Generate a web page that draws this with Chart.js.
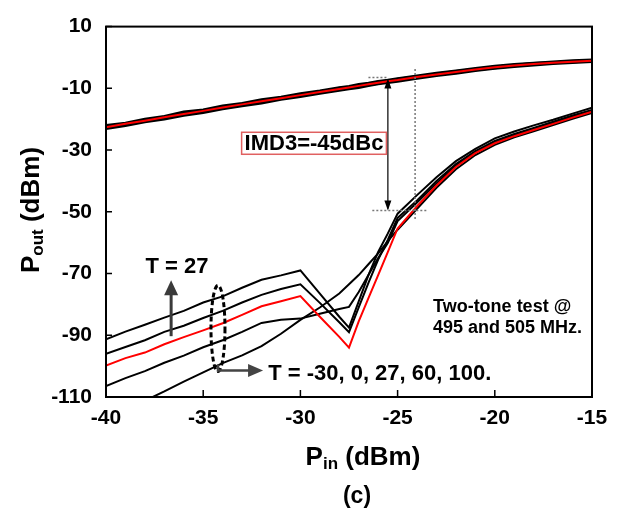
<!DOCTYPE html>
<html>
<head>
<meta charset="utf-8">
<script src="https://cdn.jsdelivr.net/npm/chart.js@4.4.1/dist/chart.umd.min.js"></script>
<style>
  html, body { margin: 0; padding: 0; background: #fff; }
  #wrap { width: 625px; height: 512px; }
</style>
</head>
<body>
<div id="wrap"><canvas id="chart" width="625" height="512"></canvas></div>
<script>
// input power sweep (dBm)
const PIN = [-40, -39, -38, -37, -36, -35, -34, -33, -32, -31, -30, -29, -28,
  -27.5, -27, -26.5, -26, -25.5, -25,
  -24, -23, -22, -21, -20, -19, -18, -17, -16, -15];

// fundamental output, five temperatures (red = 27 C)
const FUND_27 = [-22.6, -21.5, -20.5, -19.4, -18.3, -17.3, -16.2, -15.2, -14.2, -13.2, -12.2, -11.2, -10.2,
  -9.7, -9.2, -8.7, -8.2, -7.7, -7.3, -6.3, -5.5, -4.7, -3.9, -3.2, -2.6, -2.1, -1.7, -1.4, -1.1];
const FUND_A = [-22.0, -21.2, -19.9, -19.0, -17.6, -16.9, -15.6, -14.8, -13.6, -12.8, -11.7, -10.8, -9.7,
  -9.3, -8.7, -8.3, -7.7, -7.3, -6.8, -5.9, -5.0, -4.3, -3.5, -2.8, -2.2, -1.8, -1.4, -1.0, -0.7];
const FUND_B = [-23.1, -22.1, -20.9, -20.0, -18.8, -17.9, -16.7, -15.7, -14.8, -13.6, -12.7, -11.7, -10.7,
  -10.2, -9.8, -9.2, -8.6, -8.2, -7.8, -6.8, -5.9, -5.2, -4.3, -3.6, -3.0, -2.5, -2.0, -1.7, -1.4];
const FUND_C = [-22.3, -21.6, -20.2, -19.6, -18.0, -17.5, -15.9, -15.3, -13.9, -13.4, -11.9, -11.4, -9.9,
  -9.6, -8.9, -8.6, -7.9, -7.6, -7.0, -6.2, -5.3, -4.5, -3.7, -3.0, -2.4, -1.9, -1.6, -1.2, -0.9];
const FUND_D = [-22.9, -21.4, -20.7, -19.2, -18.6, -17.1, -16.5, -15.0, -14.5, -13.0, -12.5, -11.0, -10.5,
  -9.9, -9.5, -8.9, -8.4, -7.9, -7.5, -6.5, -5.7, -4.9, -4.1, -3.4, -2.8, -2.3, -1.8, -1.5, -1.2];

// third-order intermodulation output
const IMD_A = [-91.3, -88.8, -86.6, -84.3, -82.1, -79.4, -77.4, -74.6, -72.0, -70.6, -69.0, -76.5, -84.0,
  -87.5, -79.0, -70.5, -63.0, -57.0, -50.6, -44.6, -38.8, -33.6, -29.6, -26.2, -24.0, -22.0, -20.2, -18.2, -16.3];
const IMD_B = [-96.0, -93.8, -91.6, -88.9, -86.9, -84.4, -82.1, -79.4, -76.9, -75.0, -73.5, -79.5, -85.8,
  -89.0, -81.0, -73.0, -65.5, -59.0, -52.0, -46.3, -40.0, -34.5, -30.3, -27.0, -24.8, -22.8, -20.8, -18.8, -17.0];
const IMD_27 = [-99.8, -97.4, -95.6, -92.9, -90.6, -88.4, -86.1, -83.4, -80.6, -79.0, -77.3, -84.0, -90.5,
  -94.0, -85.5, -78.0, -70.5, -63.0, -55.4, -48.2, -41.5, -35.5, -31.0, -27.8, -25.5, -23.5, -21.5, -19.5, -17.6];
const IMD_D = [-106.5, -103.9, -101.6, -98.9, -96.6, -93.9, -91.6, -88.9, -86.0, -85.0, -84.6, -83.0, -81.5,
  -80.8, -76.0, -70.5, -65.0, -60.0, -53.0, -47.0, -40.8, -35.0, -30.8, -27.5, -25.2, -23.2, -21.2, -19.2, -17.3];
const IMD_E = [-117.0, -114.0, -111.2, -108.2, -105.0, -102.0, -99.0, -96.5, -93.5, -89.5, -85.0, -81.0, -76.5,
  -73.5, -70.5, -67.0, -63.5, -59.5, -55.8, -49.0, -42.2, -36.2, -31.6, -28.3, -25.9, -23.9, -21.9, -19.9, -18.0];

const X_TICKS = [-40, -35, -30, -25, -20, -15];
const Y_TICKS = [-110, -90, -70, -50, -30, -10, 10];

const FONT = '"Liberation Sans", Arial, sans-serif';

function pts(ys) {
  return PIN.map((x, i) => ({ x: x, y: ys[i] }));
}

function line(ys, color, width) {
  return {
    data: pts(ys),
    borderColor: color,
    borderWidth: width,
    pointRadius: 0,
    tension: 0,
    fill: false,
    clip: 0
  };
}

function arrowHead(ctx, x, y, dir, w, h) {
  // dir: 'up' | 'down' | 'right'
  ctx.beginPath();
  if (dir === "up") { ctx.moveTo(x, y); ctx.lineTo(x - w / 2, y + h); ctx.lineTo(x + w / 2, y + h); }
  if (dir === "down") { ctx.moveTo(x, y); ctx.lineTo(x - w / 2, y - h); ctx.lineTo(x + w / 2, y - h); }
  if (dir === "right") { ctx.moveTo(x, y); ctx.lineTo(x - h, y - w / 2); ctx.lineTo(x - h, y + w / 2); }
  ctx.closePath();
  ctx.fill();
}

const decor = {
  id: "decor",
  afterDraw(chart) {
    const ctx = chart.ctx;
    const a = chart.chartArea;
    const xs = chart.scales.x, ys = chart.scales.y;
    const X = v => xs.getPixelForValue(v), Y = v => ys.getPixelForValue(v);
    ctx.save();

    // frame + inward ticks
    ctx.strokeStyle = "#000";
    ctx.lineWidth = 2;
    ctx.strokeRect(a.left, a.top, a.right - a.left, a.bottom - a.top);
    ctx.lineWidth = 1.5;
    ctx.beginPath();
    Y_TICKS.forEach(v => { ctx.moveTo(a.left, Y(v)); ctx.lineTo(a.left + 6, Y(v)); });
    X_TICKS.forEach(v => { ctx.moveTo(X(v), a.bottom); ctx.lineTo(X(v), a.bottom - 7); });
    ctx.stroke();

    // dotted guides for IMD3 spacing
    ctx.strokeStyle = "#777";
    ctx.lineWidth = 1.5;
    ctx.setLineDash([2, 2]);
    ctx.beginPath();
    ctx.moveTo(X(-26.5), Y(-6.5)); ctx.lineTo(X(-25.5), Y(-6.5));
    ctx.moveTo(X(-26.3), Y(-49.6)); ctx.lineTo(X(-23.5), Y(-49.6));
    ctx.moveTo(X(-24.1), Y(-3.7)); ctx.lineTo(X(-24.1), Y(-52.9));
    ctx.stroke();
    ctx.setLineDash([]);

    // double arrow
    ctx.strokeStyle = "#000";
    ctx.fillStyle = "#000";
    ctx.lineWidth = 1.2;
    const ax = X(-25.5);
    ctx.beginPath();
    ctx.moveTo(ax, Y(-7.5)); ctx.lineTo(ax, Y(-49));
    ctx.stroke();
    arrowHead(ctx, ax, Y(-6.8), "up", 7, 10);
    arrowHead(ctx, ax, Y(-49.6), "down", 7, 10);

    // IMD3 label
    ctx.font = "bold 22px " + FONT;
    ctx.textBaseline = "middle";
    ctx.textAlign = "center";
    const lx = X(-29.3), ly = Y(-27.8);
    const tw = ctx.measureText("IMD3=-45dBc").width;
    ctx.fillStyle = "#fff";
    ctx.fillRect(lx - tw / 2 - 3, ly - 11, tw + 6, 22);
    ctx.strokeStyle = "#e06060";
    ctx.lineWidth = 1.5;
    ctx.strokeRect(lx - tw / 2 - 3, ly - 11, tw + 6, 22);
    ctx.fillStyle = "#000";
    ctx.fillText("IMD3=-45dBc", lx, ly + 1);

    // T = 27 arrow
    ctx.fillStyle = "#3a3a3a";
    ctx.strokeStyle = "#3a3a3a";
    ctx.lineWidth = 3;
    const tx = X(-36.65);
    ctx.beginPath();
    ctx.moveTo(tx, Y(-90.3)); ctx.lineTo(tx, Y(-76));
    ctx.stroke();
    arrowHead(ctx, tx, Y(-72.2), "up", 14, 15);
    ctx.fillStyle = "#000";
    ctx.font = "bold 22px " + FONT;
    ctx.fillText("T = 27", X(-36.35), Y(-67.8));

    // dashed ellipse around the sweep
    ctx.strokeStyle = "#000";
    ctx.lineWidth = 3;
    ctx.setLineDash([5, 3]);
    ctx.beginPath();
    ctx.ellipse(X(-34.24), Y(-87.8), 7, 43, 0, 0, Math.PI * 2);
    ctx.stroke();
    ctx.setLineDash([]);

    // L-shaped arrow to the temperature list
    ctx.strokeStyle = "#444";
    ctx.fillStyle = "#444";
    ctx.lineWidth = 2.5;
    const ex = X(-34.24), ey = Y(-87.8) + 36;
    const hy = ey + 6;
    ctx.beginPath();
    ctx.moveTo(ex, ey); ctx.lineTo(ex, hy); ctx.lineTo(X(-31.92) - 12, hy);
    ctx.stroke();
    arrowHead(ctx, X(-31.92), hy, "right", 13, 15);
    ctx.fillStyle = "#000";
    ctx.textAlign = "left";
    ctx.font = "bold 22px " + FONT;
    ctx.fillText("T = -30, 0, 27, 60, 100.", X(-31.66), hy + 3);

    // test condition note
    ctx.font = "bold 18px " + FONT;
    ctx.fillText("Two-tone test @", X(-23.18), Y(-80.8));
    ctx.fillText("495 and 505 MHz.", X(-23.18), Y(-87.8));

    // axis titles with subscripts
    function subTitle(main, sub, rest, big, small) {
      ctx.font = "bold " + big + "px " + FONT;
      const w1 = ctx.measureText(main).width;
      const w3 = ctx.measureText(rest).width;
      ctx.font = "bold " + small + "px " + FONT;
      const w2 = ctx.measureText(sub).width;
      return { w1, w2, w3, total: w1 + w2 + w3 };
    }
    ctx.textBaseline = "alphabetic";
    ctx.fillStyle = "#000";
    // x title
    let m = subTitle("P", "in", " (dBm)", 26, 17);
    let x0 = 363 - m.total / 2, base = 465;
    ctx.font = "bold 26px " + FONT; ctx.fillText("P", x0, base);
    ctx.font = "bold 17px " + FONT; ctx.fillText("in", x0 + m.w1, base + 4);
    ctx.font = "bold 26px " + FONT; ctx.fillText(" (dBm)", x0 + m.w1 + m.w2, base);
    // y title
    ctx.save();
    ctx.translate(39, 210);
    ctx.rotate(-Math.PI / 2);
    m = subTitle("P", "out", " (dBm)", 26, 17);
    x0 = -m.total / 2;
    ctx.font = "bold 26px " + FONT; ctx.fillText("P", x0, 0);
    ctx.font = "bold 17px " + FONT; ctx.fillText("out", x0 + m.w1, 4);
    ctx.font = "bold 26px " + FONT; ctx.fillText(" (dBm)", x0 + m.w1 + m.w2, 0);
    ctx.restore();
    // panel label
    ctx.textAlign = "center";
    ctx.font = "bold 23px " + FONT;
    ctx.fillText("(c)", 357, 503);

    ctx.restore();
  }
};

// Chart.js paints lower dataset indices on top, so the red 27 C traces go first
new Chart(document.getElementById("chart"), {
  type: "line",
  data: {
    datasets: [
      line(FUND_27, "#ff0000", 2),
      line(IMD_27, "#ff0000", 2),
      line(FUND_A, "#000", 2.5),
      line(FUND_B, "#000", 2.5),
      line(FUND_C, "#000", 2.5),
      line(FUND_D, "#000", 2.5),
      line(IMD_A, "#000", 2),
      line(IMD_B, "#000", 2),
      line(IMD_D, "#000", 2),
      line(IMD_E, "#000", 2)
    ]
  },
  options: {
    responsive: false,
    animation: false,
    devicePixelRatio: 1,
    layout: { padding: { left: 0, right: 33, top: 19, bottom: 0 } },
    plugins: { legend: { display: false }, tooltip: { enabled: false } },
    scales: {
      x: {
        type: "linear",
        min: -40,
        max: -15,
        afterFit: s => { s.height = 115; },
        afterBuildTicks: s => { s.ticks = X_TICKS.map(v => ({ value: v })); },
        grid: { display: false, drawTicks: false },
        border: { display: false },
        ticks: {
          color: "#000",
          padding: 9,
          maxRotation: 0,
          font: { family: FONT, size: 21, weight: "bold" }
        }
      },
      y: {
        type: "linear",
        min: -110,
        max: 10,
        afterFit: s => { s.width = 106; },
        afterBuildTicks: s => { s.ticks = Y_TICKS.map(v => ({ value: v })); },
        grid: { display: false, drawTicks: false },
        border: { display: false },
        ticks: {
          color: "#000",
          padding: 14,
          font: { family: FONT, size: 21, weight: "bold" }
        }
      }
    }
  },
  plugins: [decor]
});
</script>
</body>
</html>
